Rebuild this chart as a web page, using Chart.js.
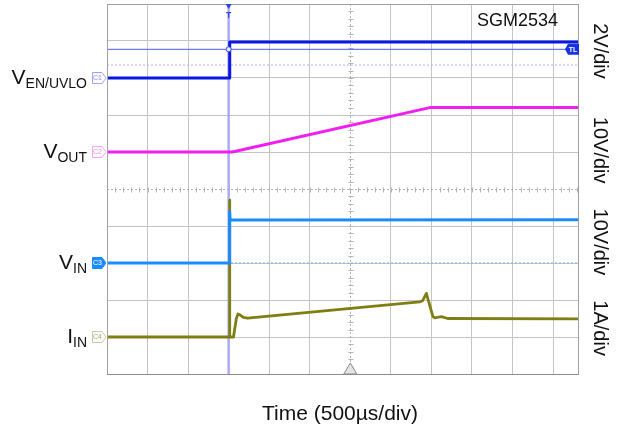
<!DOCTYPE html>
<html><head><meta charset="utf-8">
<script src="https://cdn.jsdelivr.net/npm/chart.js@4/dist/chart.umd.min.js"></script>
<style>html,body{margin:0;padding:0;background:#fff;}canvas{display:block;}</style>
</head><body>
<canvas id="c" width="621" height="430"></canvas>
<script>
// ---- data (time in µs, trigger at t = 0) ----
const enTime   = [-1500, 9, 13, 4320];
const enVolts  = [0, 0, 1.95, 1.95];
const outTime  = [-1500, 45, 2480, 4320];
const outVolts = [0, 0, 12.0, 12.0];
const inTime   = [-1500, 9, 12, 18, 40, 4320];
const inVolts  = [0, 0, 13.9, 11.5, 11.6, 11.7];
const iinTime  = [-1500, 8, 11, 15, 60, 70, 95, 115, 140, 180, 234, 2355, 2392, 2438, 2480, 2519, 2540, 2622, 2700, 4320];
const iinAmps  = [0, 0, 3.7, 0, 0, 0.15, 0.5, 0.62, 0.6, 0.53, 0.51, 0.95, 0.98, 1.18, 0.85, 0.55, 0.52, 0.55, 0.50, 0.49];
const trigLevelVolts = 1.55;
const enRefVolts = 0.70;
const scaleLabels = ['2V/div', '10V/div', '10V/div', '1A/div'];
const titleText = 'SGM2534';
const axisTitle = 'Time (500µs/div)';

// channel settings (per-division scale and ground position in divisions)
const chEN  = {perDiv: 2,  ground: 8};
const chOUT = {perDiv: 10, ground: 6};
const chIN  = {perDiv: 10, ground: 3};
const chIIN = {perDiv: 1,  ground: 1};

function pts(times, vals, ch) {
  return times.map((t, i) => ({x: t, y: ch.ground + vals[i] / ch.perDiv}));
}

const FONT = '"Liberation Sans", Arial, sans-serif';
const C_EN = '#0a18e2', C_OUT = '#f01ef0', C_IN = '#1a8cff', C_IIN = '#7e7e12';

const deco = {
  id: 'deco',
  beforeDatasetsDraw(chart) {
    const ctx = chart.ctx, xs = chart.scales.x, ys = chart.scales.y, a = chart.chartArea;
    ctx.save();
    const cx = Math.round(xs.getPixelForValue(1500)) + 0.5;
    const cy = Math.round(ys.getPixelForValue(5)) + 0.5;
    ctx.strokeStyle = '#b4b4b4'; ctx.lineWidth = 1;
    ctx.setLineDash([2, 2]);
    ctx.beginPath(); ctx.moveTo(cx, a.top); ctx.lineTo(cx, a.bottom); ctx.stroke();
    ctx.beginPath(); ctx.moveTo(a.left, cy); ctx.lineTo(a.right, cy); ctx.stroke();
    ctx.setLineDash([]);
    ctx.beginPath();
    for (let d = 0; d <= 10; d += 0.2) {
      const y = Math.round(ys.getPixelForValue(d)) + 0.5;
      ctx.moveTo(cx - 2, y); ctx.lineTo(cx + 3, y);
    }
    for (let t = -1500; t <= 4320; t += 100) {
      const x = Math.round(xs.getPixelForValue(t)) + 0.5;
      ctx.moveTo(x, cy - 2); ctx.lineTo(x, cy + 3);
    }
    ctx.stroke();
    ctx.restore();
  },
  afterDraw(chart) {
    const ctx = chart.ctx, xs = chart.scales.x, ys = chart.scales.y, a = chart.chartArea;
    ctx.save();
    // frame
    ctx.strokeStyle = '#a0a0a0'; ctx.lineWidth = 1;
    ctx.strokeRect(a.left + 0.5, a.top + 0.5, a.right - a.left - 1, a.bottom - a.top);
    ctx.strokeStyle = '#8c8c8c';
    ctx.beginPath(); ctx.moveTo(a.left, a.bottom + 0.5); ctx.lineTo(a.right, a.bottom + 0.5); ctx.stroke();

    // bottom center triangle
    const cx = xs.getPixelForValue(1500);
    ctx.beginPath();
    ctx.moveTo(cx, a.bottom - 11); ctx.lineTo(cx + 6.5, a.bottom); ctx.lineTo(cx - 6.5, a.bottom); ctx.closePath();
    ctx.fillStyle = '#e4e4e4'; ctx.fill();
    ctx.strokeStyle = '#8a8a8a'; ctx.stroke();

    // trigger marker at top
    const tx = xs.getPixelForValue(0);
    ctx.fillStyle = '#2a44e8'; ctx.strokeStyle = '#2a44e8';
    ctx.beginPath(); ctx.moveTo(tx - 3, a.top); ctx.lineTo(tx + 3, a.top); ctx.lineTo(tx, a.top + 5); ctx.closePath(); ctx.fill();
    ctx.fillRect(tx - 2.5, a.top + 8, 5, 1.2);
    ctx.fillRect(tx - 0.6, a.top + 8, 1.2, 6);

    // trigger point circle
    const ty = ys.getPixelForValue(chEN.ground + trigLevelVolts / chEN.perDiv);
    ctx.beginPath(); ctx.arc(tx, ty, 2.5, 0, Math.PI * 2);
    ctx.fillStyle = '#e8e8ff'; ctx.fill(); ctx.strokeStyle = '#3a4ae8'; ctx.lineWidth = 1; ctx.stroke();

    // TL tag at right
    ctx.beginPath();
    ctx.moveTo(a.right - 14, ty); ctx.lineTo(a.right - 11, ty - 5.5); ctx.lineTo(a.right, ty - 5.5);
    ctx.lineTo(a.right, ty + 5.5); ctx.lineTo(a.right - 11, ty + 5.5); ctx.closePath();
    ctx.fillStyle = '#1834e0'; ctx.fill();
    ctx.fillStyle = '#ffffff'; ctx.font = 'bold 7px ' + FONT; ctx.textAlign = 'center'; ctx.textBaseline = 'middle';
    ctx.fillText('TL', a.right - 6, ty + 0.5);

    // channel tags
    function tag(ch, label, stroke, fill, textCol) {
      const y = ys.getPixelForValue(ch.ground);
      const x1 = a.left - 15, x2 = a.left - 5, x3 = a.left - 1;
      ctx.beginPath();
      ctx.moveTo(x1 + 0.5, y - 5.5); ctx.lineTo(x2, y - 5.5); ctx.lineTo(x3, y); ctx.lineTo(x2, y + 5.5); ctx.lineTo(x1 + 0.5, y + 5.5); ctx.closePath();
      ctx.fillStyle = fill; ctx.fill();
      ctx.strokeStyle = stroke; ctx.lineWidth = 1; ctx.stroke();
      ctx.fillStyle = textCol; ctx.font = '7px ' + FONT; ctx.textAlign = 'center'; ctx.textBaseline = 'middle';
      ctx.fillText(label, x1 + 5.5, y + 0.5);
    }
    tag(chEN, 'C1', '#a0a0f4', '#ffffff', '#8a8ae8');
    tag(chOUT, 'C2', '#f4a8f4', '#ffffff', '#e890e8');
    tag(chIN, 'C3', '#1a8cff', '#1a8cff', '#ffffff');
    tag(chIIN, 'C4', '#cacaa0', '#ffffff', '#a8a878');

    // left trace labels with subscripts
    function subLabel(ch, main, sub) {
      const y = ys.getPixelForValue(ch.ground);
      ctx.textAlign = 'left'; ctx.textBaseline = 'alphabetic'; ctx.fillStyle = '#111111';
      ctx.font = '21px ' + FONT; const w1 = ctx.measureText(main).width;
      ctx.font = '14px ' + FONT; const w2 = ctx.measureText(sub).width;
      const x0 = a.left - 20 - w1 - w2;
      ctx.font = '21px ' + FONT; ctx.fillText(main, x0, y + 6);
      ctx.font = '14px ' + FONT; ctx.fillText(sub, x0 + w1, y + 10);
    }
    subLabel(chEN, 'V', 'EN/UVLO');
    subLabel(chOUT, 'V', 'OUT');
    subLabel(chIN, 'V', 'IN');
    subLabel(chIIN, 'I', 'IN');

    // right rotated scale labels
    const labelDivs = [8.73, 6.05, 3.57, 1.24];
    ctx.fillStyle = '#111111'; ctx.font = '20px ' + FONT; ctx.textAlign = 'center'; ctx.textBaseline = 'middle';
    scaleLabels.forEach((s, i) => {
      ctx.save();
      ctx.translate(a.right + 21, ys.getPixelForValue(labelDivs[i]));
      ctx.rotate(Math.PI / 2);
      ctx.fillText(s, 0, 0);
      ctx.restore();
    });

    // title in plot
    ctx.font = '18px ' + FONT; ctx.textAlign = 'left'; ctx.textBaseline = 'alphabetic'; ctx.fillStyle = '#111111';
    ctx.fillText(titleText, 477, 26);

    // axis title
    ctx.font = '21px ' + FONT; ctx.textAlign = 'center';
    ctx.fillText(axisTitle, 340, 420);
    ctx.restore();
  }
};

new Chart(document.getElementById('c'), {
  type: 'line',
  data: {
    datasets: [
      {data: pts(enTime, enVolts, chEN), borderColor: C_EN, borderWidth: 3},
      {data: pts(outTime, outVolts, chOUT), borderColor: C_OUT, borderWidth: 3},
      {data: pts(inTime, inVolts, chIN), borderColor: C_IN, borderWidth: 3},
      {data: pts(iinTime, iinAmps, chIIN), borderColor: C_IIN, borderWidth: 2.8},
      {data: [{x: 0, y: 0}, {x: 0, y: 10}], borderColor: '#aaaaf6', borderWidth: 2.5},
      {data: [{x: -1500, y: chEN.ground + trigLevelVolts / chEN.perDiv}, {x: 4320, y: chEN.ground + trigLevelVolts / chEN.perDiv}], borderColor: '#4a5cf0', borderWidth: 1},
      {data: [{x: -1500, y: chEN.ground + enRefVolts / chEN.perDiv}, {x: 4320, y: chEN.ground + enRefVolts / chEN.perDiv}], borderColor: '#b4b4f2', borderWidth: 1, borderDash: [2, 2]},
      {data: [{x: -1500, y: chIN.ground}, {x: 4320, y: chIN.ground}], borderColor: '#6ab2ff', borderWidth: 1, borderDash: [2, 2]}
    ]
  },
  options: {
    responsive: false, animation: false, devicePixelRatio: 1,
    layout: {padding: {left: 107, right: 42, top: 4, bottom: 56}},
    plugins: {legend: {display: false}, tooltip: {enabled: false}},
    elements: {point: {radius: 0}, line: {tension: 0, borderJoinStyle: 'round'}},
    scales: {
      x: {
        type: 'linear', min: -1500, max: 4320,
        afterBuildTicks(s) { s.ticks = []; for (let t = -1500; t <= 4320; t += 500) s.ticks.push({value: t}); },
        ticks: {display: false},
        grid: {drawTicks: false, color: c => (c.tick && (c.tick.value === 1500 || c.tick.value === -1500)) ? 'rgba(0,0,0,0)' : '#c4c4c4'},
        border: {display: false}
      },
      y: {
        type: 'linear', min: 0, max: 10,
        afterBuildTicks(s) { s.ticks = []; for (let d = 0; d <= 10; d++) s.ticks.push({value: d}); },
        ticks: {display: false},
        grid: {drawTicks: false, color: c => (c.tick && (c.tick.value === 5 || c.tick.value === 0 || c.tick.value === 10)) ? 'rgba(0,0,0,0)' : '#c4c4c4'},
        border: {display: false}
      }
    }
  },
  plugins: [deco]
});
</script>
</body></html>
